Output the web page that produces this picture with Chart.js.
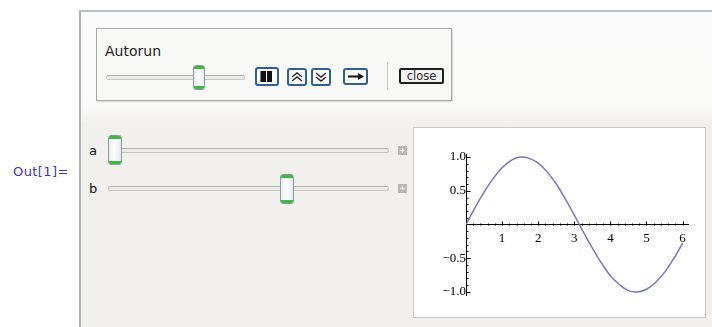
<!DOCTYPE html>
<html>
<head>
<meta charset="utf-8">
<script src="https://cdn.jsdelivr.net/npm/chart.js@4/dist/chart.umd.min.js"></script>
<style>
  html, body { margin:0; padding:0; }
  body { width:712px; height:327px; overflow:hidden; background:#ffffff; position:relative; font-family:"DejaVu Sans", sans-serif; }
  .abs { position:absolute; }
  #outlabel { left:13px; top:164px; font-size:13px; color:#3a3aa6; letter-spacing:0.4px; }
  #outer { left:79px; top:10px; width:640px; height:330px; border-left:2px solid #aab2ba; border-top:2px solid #b9c0c4;
           background:linear-gradient(to bottom, #fbfbfb 0px, #f9f9f8 95px, #f1f0ec 112px, #f1f0ec 100%); }
  #autopanel { left:96px; top:28px; width:354px; height:71px; border:1px solid #a9a9a9; background:#f8f8f6;
               box-shadow:1px 1px 1px rgba(0,0,0,0.12); }
  #autolabel { left:105px; top:43px; font-size:14px; color:#1e1e1e; }
  .track { height:3px; border:1px solid #c6c6c2; border-top-color:#b4b4b0; background:#ecece8; border-radius:3px; }
  .thumb { border:1px solid #8d9aa6; border-radius:3px; box-sizing:border-box;
           background:linear-gradient(to right, #e6ecf2, #ffffff 45%, #e4eaf0); }
  .thumb::before, .thumb::after { content:""; position:absolute; left:0; right:0; height:3px; background:#3cb83c; }
  .thumb::before { top:0; border-radius:2px 2px 0 0; }
  .thumb::after { bottom:0; border-radius:0 0 2px 2px; }
  .btn { box-sizing:border-box; border:2px solid #2f5f97; border-radius:3px; background:#fdfdfd; }
  .btn svg { position:absolute; left:0; top:0; }
  #sep { left:387px; top:62px; width:1px; height:28px; background:#c9c9c6; }
  #closebtn { left:399px; top:68px; width:45px; height:16px; box-sizing:border-box; border:2px solid #202020; border-radius:2px;
              background:#f2f2f0; font-size:11.5px; color:#2a2a2a; text-align:center; line-height:12px; }
  .lbl { font-size:13px; color:#111; }
  .plus { width:9px; height:9px; background:#b8b8b6; }
  .plus::before { content:""; position:absolute; left:4px; top:2px; width:1px; height:5px; background:#fff; }
  .plus::after { content:""; position:absolute; left:2px; top:4px; width:5px; height:1px; background:#fff; }
  #plotbox { left:413px; top:127px; width:291px; height:189px; border:1px solid #c9c9c9; background:#ffffff; }
  #chartwrap { left:414px; top:128px; width:291px; height:189px; }
</style>
</head>
<body>
<div id="outlabel" class="abs">Out[1]=</div>
<div id="outer" class="abs"></div>

<div id="autopanel" class="abs"></div>
<div id="autolabel" class="abs">Autorun</div>
<div class="abs track" style="left:106px; top:75px; width:137px;"></div>
<div class="abs thumb" style="left:193px; top:65px; width:12px; height:25px;"></div>

<div class="abs btn" style="left:255px; top:67px; width:24px; height:19px;">
  <svg width="20" height="15"><rect x="4" y="2" width="5" height="11" fill="#111"/><rect x="10" y="2" width="5" height="11" fill="#111"/><rect x="3" y="2" width="1" height="11" fill="#777"/></svg>
</div>
<div class="abs btn" style="left:287px; top:68px; width:20px; height:18px;">
  <svg width="16" height="14"><polyline points="3,7 8,3 13,7" fill="none" stroke="#222" stroke-width="1.4"/><polyline points="3,11 8,7 13,11" fill="none" stroke="#222" stroke-width="1.4"/></svg>
</div>
<div class="abs btn" style="left:311px; top:68px; width:20px; height:18px;">
  <svg width="16" height="14"><polyline points="3,3 8,7 13,3" fill="none" stroke="#222" stroke-width="1.4"/><polyline points="3,7 8,11 13,7" fill="none" stroke="#222" stroke-width="1.4"/></svg>
</div>
<div class="abs btn" style="left:343px; top:68px; width:25px; height:17px;">
  <svg width="21" height="13"><line x1="3" y1="6.5" x2="14" y2="6.5" stroke="#111" stroke-width="2"/><polygon points="13,3 19,6.5 13,10" fill="#111"/></svg>
</div>
<div id="sep" class="abs"></div>
<div id="closebtn" class="abs">close</div>

<div class="abs lbl" style="left:89px; top:143px;">a</div>
<div class="abs track" style="left:108px; top:148px; width:279px;"></div>
<div class="abs thumb" style="left:108px; top:135px; width:14px; height:30px;"></div>
<div class="abs plus" style="left:398px; top:146px;"></div>

<div class="abs lbl" style="left:89px; top:181px;">b</div>
<div class="abs track" style="left:108px; top:186px; width:279px;"></div>
<div class="abs thumb" style="left:280px; top:174px; width:14px; height:30px;"></div>
<div class="abs plus" style="left:398px; top:184px;"></div>

<div id="plotbox" class="abs"></div>
<div id="chartwrap" class="abs"><canvas id="c" width="291" height="189"></canvas></div>

<script>
// Values
const xValues = [0, 0.25, 0.5, 0.75, 1, 1.25, 1.5, 1.75, 2, 2.25, 2.5, 2.75, 3, 3.25, 3.5, 3.75, 4, 4.25, 4.5, 4.75, 5, 5.25, 5.5, 5.75, 6];
const yValues = [0, 0.25, 0.48, 0.68, 0.84, 0.95, 1.0, 0.98, 0.91, 0.78, 0.60, 0.38, 0.14, -0.11, -0.35, -0.57, -0.76, -0.89, -0.98, -1.0, -0.96, -0.86, -0.71, -0.51, -0.28];
const xTickLabels = [1, 2, 3, 4, 5, 6];
const yTickLabels = [-1.0, -0.5, 0.5, 1.0];

const minorTicks = {
  id: 'minorTicks',
  afterDatasetsDraw(chart) {
    const ctx = chart.ctx;
    const xs = chart.scales.x, ys = chart.scales.y;
    const y0 = Math.round(ys.getPixelForValue(0)) + 0.5;
    const x0 = Math.round(xs.getPixelForValue(0)) + 0.5;
    ctx.save();
    ctx.strokeStyle = '#000';
    ctx.lineWidth = 1;
    ctx.beginPath();
    for (let i = 1; i <= 30; i++) {
      const v = i * 0.2;
      if (v > xs.max) break;
      const major = i % 5 === 0;
      const px = Math.round(xs.getPixelForValue(v)) + 0.5;
      ctx.moveTo(px, y0);
      ctx.lineTo(px, y0 - (major ? 4 : 2));
    }
    for (let i = -10; i <= 10; i++) {
      if (i === 0) continue;
      const v = i * 0.1;
      const major = i % 5 === 0;
      const py = Math.round(ys.getPixelForValue(v)) + 0.5;
      ctx.moveTo(x0, py);
      ctx.lineTo(x0 + (major ? 4 : 2), py);
    }
    ctx.stroke();
    ctx.restore();
  }
};

new Chart(document.getElementById('c'), {
  type: 'line',
  data: {
    datasets: [{
      data: xValues.map((x, i) => ({ x: x, y: yValues[i] })),
      borderColor: '#7676c6',
      borderWidth: 1.5,
      pointRadius: 0,
      tension: 0.4,
      fill: false
    }]
  },
  options: {
    responsive: false,
    animation: false,
    devicePixelRatio: 1,
    layout: { padding: { left: 52, right: 17, top: 26, bottom: 22 } },
    plugins: { legend: { display: false }, tooltip: { enabled: false } },
    scales: {
      x: {
        type: 'linear',
        min: 0,
        max: 6.15,
        position: { y: 0 },
        afterBuildTicks: (s) => { s.ticks = xTickLabels.map(v => ({ value: v })); },
        grid: { display: false, drawTicks: false },
        border: { display: true, color: '#000', width: 1 },
        ticks: {
          padding: 6,
          color: '#000',
          font: { family: '"Liberation Serif", serif', size: 13 },
          maxRotation: 0,
          autoSkip: false,
          callback: (v) => String(v)
        }
      },
      y: {
        type: 'linear',
        min: -1.045,
        max: 1.045,
        position: { x: 0 },
        afterBuildTicks: (s) => { s.ticks = yTickLabels.map(v => ({ value: v })); },
        grid: { display: false, drawTicks: false },
        border: { display: true, color: '#000', width: 1 },
        ticks: {
          padding: 6,
          color: '#000',
          font: { family: '"Liberation Serif", serif', size: 13 },
          autoSkip: false,
          callback: (v) => (v < 0 ? '\u2212' : '') + Math.abs(v).toFixed(1)
        }
      }
    }
  },
  plugins: [minorTicks]
});
</script>
</body>
</html>
